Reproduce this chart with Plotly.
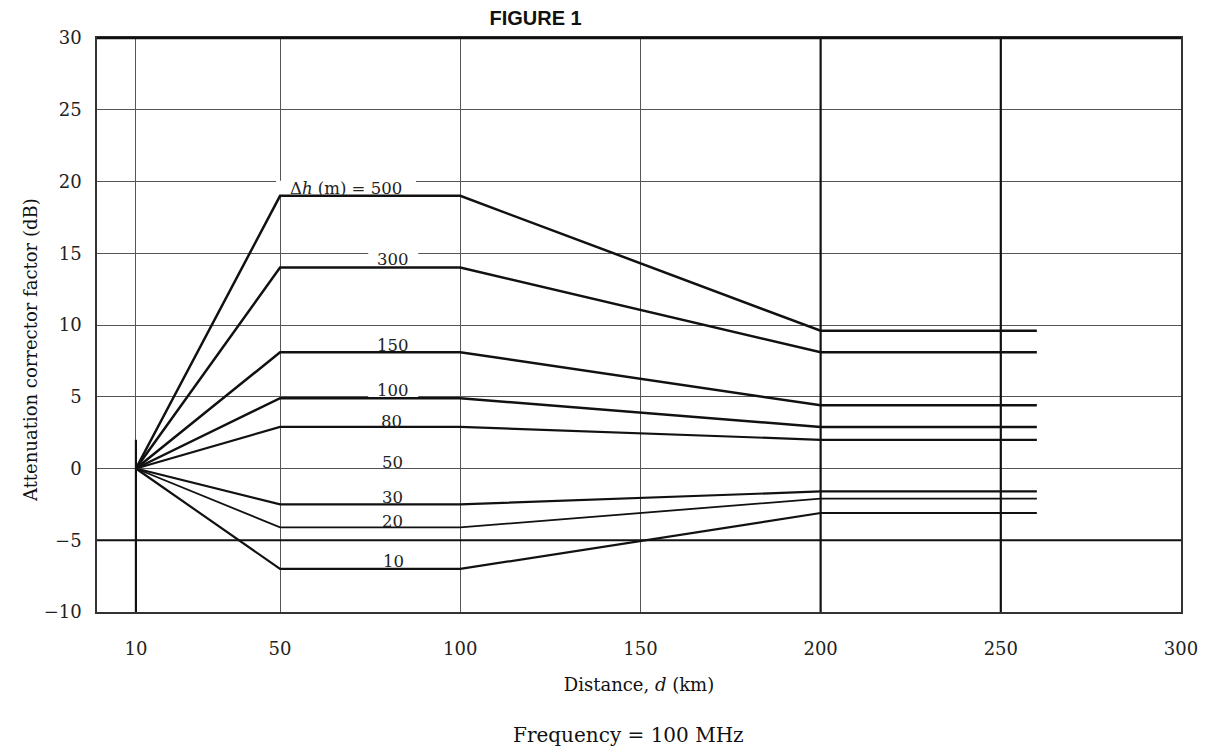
import plotly.graph_objects as go

# Distance breakpoints (km) shared by every curve
distance_km = [10, 50, 100, 200, 260]

# Terrain irregularity Δh (m) and correction factor (dB) at each breakpoint
delta_h = [500, 300, 150, 100, 80, 50, 30, 20, 10]
correction_db = {
    500: [0, 19.0, 19.0, 9.6, 9.6],
    300: [0, 14.0, 14.0, 8.1, 8.1],
    150: [0, 8.1, 8.1, 4.4, 4.4],
    100: [0, 4.9, 4.9, 2.9, 2.9],
    80: [0, 2.9, 2.9, 2.0, 2.0],
    50: [0, 0.0, 0.0, 0.0, 0.0],
    30: [0, -2.5, -2.5, -1.6, -1.6],
    20: [0, -4.1, -4.1, -2.1, -2.1],
    10: [0, -7.0, -7.0, -3.1, -3.1],
}
line_widths = {500: 2.5, 300: 2.5, 150: 2.5, 100: 2.5, 80: 2.2,
               50: 1.2, 30: 2.2, 20: 1.8, 10: 2.2}

# Curve labels: text and anchor point (distance, dB)
label_text = ["Δ<i>h</i> (m) = 500", "300", "150", "100", "80", "50", "30", "20", "10"]
label_x = [68.3, 81.4, 81.4, 81.4, 81.0, 81.2, 81.2, 81.2, 81.4]
label_y = [19.5, 14.55, 8.6, 5.45, 3.3, 0.4, -2.05, -3.7, -6.5]
label_gap_px = [140, 50, 50, 50, 40, 40, 40, 40, 40]

x_ticks = [10, 50, 100, 150, 200, 250, 300]
y_ticks = [-10, -5, 0, 5, 10, 15, 20, 25, 30]

serif = "DejaVu Serif"

fig = go.Figure()
for h in delta_h:
    fig.add_trace(go.Scatter(
        x=distance_km, y=correction_db[h], mode="lines",
        line=dict(color="#111111" if h != 50 else "#555555", width=line_widths[h]),
        name=str(h), showlegend=False, hoverinfo="x+y+name",
    ))

for txt, lx, ly, gap in zip(label_text, label_x, label_y, label_gap_px):
    # white patch that interrupts grid lines behind the label (under the curves)
    fig.add_shape(type="rect", xref="x", yref="y",
                  xsizemode="pixel", ysizemode="pixel",
                  xanchor=lx, yanchor=ly, x0=-gap / 2, x1=gap / 2, y0=-8, y1=8,
                  fillcolor="white", line=dict(width=0), layer="between")
    fig.add_annotation(x=lx, y=ly, text=txt, showarrow=False,
                       font=dict(family=serif, size=16.5, color="#222"),
                       xanchor="center", yanchor="middle")

# Heavier reference lines
shape_line = dict(color="#111", width=2.2)
for xv in [200, 250]:
    fig.add_shape(type="line", x0=xv, x1=xv, y0=-10, y1=30, xref="x", yref="y",
                  line=shape_line, layer="above")
fig.add_shape(type="line", x0=-0.8, x1=300, y0=-5, y1=-5, xref="x", yref="y",
              line=shape_line, layer="above")
fig.add_shape(type="line", x0=10, x1=10, y0=-10, y1=2, xref="x", yref="y",
              line=shape_line, layer="above")

fig.update_layout(
    width=1209, height=749,
    margin=dict(l=97, r=28, t=38, b=137),
    paper_bgcolor="white", plot_bgcolor="white",
    title=dict(text="<b>FIGURE 1</b>", x=0.443, xanchor="center", y=0.976, yanchor="middle",
               font=dict(family="Liberation Sans", size=20, color="#111")),
    xaxis=dict(range=[-0.8, 300], tickvals=x_ticks, ticktext=[str(v) for v in x_ticks],
               showgrid=True, gridcolor="#555", gridwidth=1.2, zeroline=False,
               showline=True, linecolor="#333", linewidth=1.5, mirror=True,
               ticks="", tickfont=dict(family=serif, size=18, color="#222"),
               ticklabelstandoff=20,
               title=dict(text="Distance, <i>d</i> (km)", standoff=20,
                          font=dict(family=serif, size=18, color="#111"))),
    yaxis=dict(range=[-10, 30], tickvals=y_ticks,
               showgrid=True, gridcolor="#555", gridwidth=1.2, zeroline=False,
               showline=True, linecolor="#333", linewidth=1.5, mirror=True,
               ticks="", tickfont=dict(family=serif, size=18, color="#222"),
               ticklabelstandoff=10),
)

fig.add_annotation(text="Attenuation corrector factor (dB)", xref="paper", yref="paper",
                   x=-0.062, y=0.456, textangle=-90, showarrow=False,
                   xanchor="center", yanchor="middle",
                   font=dict(family=serif, size=18, color="#111"))

fig.add_annotation(text="Frequency = 100 MHz", xref="paper", yref="paper",
                   x=0.49, y=-0.215, showarrow=False, yanchor="middle",
                   font=dict(family=serif, size=20, color="#111"))

# Heavier top border
fig.add_shape(type="line", x0=0, x1=1, y0=1, y1=1, xref="paper", yref="paper",
              line=dict(color="#111", width=2.5), layer="above")

fig.write_html("out.html")
